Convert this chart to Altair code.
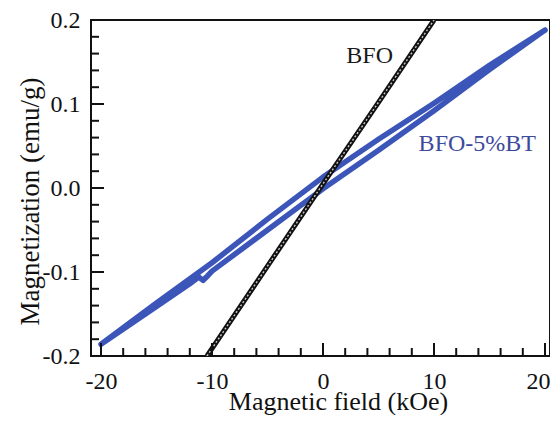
import altair as alt
import pandas as pd

# ---- data ----
bfo_H = [-10.45, -5.0, 0.0, 5.0, 10.0]
bfo_M = [-0.200, -0.093, 0.005, 0.102, 0.200]

bt_upper_H = [20, 15, 10, 5, 0, -5, -10, -15, -20]
bt_upper_M = [0.188, 0.146, 0.101, 0.058, 0.013, -0.037, -0.089, -0.137, -0.186]
bt_lower_H = [-20, -15, -12, -11.2, -10.8, -10.5, -10, -5, 0, 5, 10, 15, 20]
bt_lower_M = [-0.186, -0.141, -0.114, -0.106, -0.110, -0.106, -0.099, -0.050, -0.001, 0.045, 0.092, 0.141, 0.188]

x_major = [-20, -10, 0, 10, 20]
x_minor = [-18, -16, -14, -12, -8, -6, -4, -2, 2, 4, 6, 8, 12, 14, 16, 18]
y_major = [-0.2, -0.1, 0.0, 0.1, 0.2]
y_minor = [-0.18, -0.16, -0.14, -0.12, -0.08, -0.06, -0.04, -0.02,
           0.02, 0.04, 0.06, 0.08, 0.12, 0.14, 0.16, 0.18]

labels_text = ["BFO", "BFO-5%BT"]
labels_H = [4.2, 13.9]
labels_M = [0.149, 0.0435]
labels_color = ["#1a1a1a", "#3c4a9c"]

W, H = 459, 336
FONT = "Liberation Serif"

bfo = pd.DataFrame({"H": bfo_H, "M": bfo_M, "i": range(len(bfo_H))})
loop_H = bt_upper_H + bt_lower_H
loop_M = bt_upper_M + bt_lower_M
bt = pd.DataFrame({"H": loop_H, "M": loop_M, "i": range(len(loop_H))})

xs = alt.Scale(domain=[-20.9, 20.45], nice=False, zero=False)
ys = alt.Scale(domain=[-0.2, 0.2], nice=False, zero=False)

x_lab = "datum.value < 0 ? '-' + format(-datum.value, 'd') : format(datum.value, 'd')"
y_lab = "datum.value < 0 ? '-' + format(-datum.value, '.1f') : format(datum.value, '.1f')"

xaxis = alt.Axis(values=x_major, labelExpr=x_lab, title="Magnetic field (kOe)",
                 labelFont=FONT, labelFontSize=24, labelColor="#111",
                 labelBaseline="alphabetic", labelPadding=32,
                 labelFlush=8, labelFlushOffset=5,
                 titleFont=FONT, titleFontSize=26, titleFontWeight="normal", titleColor="#111",
                 titleX=247, titleY=53, titleBaseline="alphabetic", titleAlign="center",
                 ticks=False, tickSize=0, domain=False, grid=False)
yaxis = alt.Axis(values=y_major, labelExpr=y_lab, title="Magnetization (emu/g)",
                 labelFont=FONT, labelFontSize=24, labelColor="#111", labelPadding=11,
                 titleFont=FONT, titleFontSize=27, titleFontWeight="normal", titleColor="#111",
                 titleAngle=270, titleX=-53, titleY=181, titleBaseline="alphabetic",
                 titleAlign="center",
                 ticks=False, tickSize=0, domain=False, grid=False)

base_x = alt.X("H:Q", scale=xs, axis=xaxis)
base_y = alt.Y("M:Q", scale=ys, axis=yaxis)

loop_line = alt.Chart(bt).mark_line(color="#3b55b8", strokeWidth=5.5, strokeCap="round",
                                    strokeJoin="round", clip=True).encode(
    x=base_x, y=base_y, order="i:Q")

bfo_line = alt.Chart(bfo).mark_line(color="#111111", strokeWidth=5, clip=True).encode(
    x=alt.X("H:Q", scale=xs), y=alt.Y("M:Q", scale=ys), order="i:Q")
bfo_inner = alt.Chart(bfo).mark_line(color="#c8c8c8", strokeWidth=1.4, strokeDash=[2, 2],
                                     clip=True).encode(
    x=alt.X("H:Q", scale=xs), y=alt.Y("M:Q", scale=ys), order="i:Q")

lab_df = pd.DataFrame({"t": labels_text, "H": labels_H, "M": labels_M, "c": labels_color})
labels = alt.Chart(lab_df).mark_text(font=FONT, fontSize=24, baseline="alphabetic",
                                     align="center").encode(
    x=alt.X("H:Q", scale=xs), y=alt.Y("M:Q", scale=ys), text="t:N",
    color=alt.Color("c:N", scale=None))

xmaj = alt.Chart(pd.DataFrame({"H": x_major})).mark_rule(color="#111", strokeWidth=2).encode(
    x=alt.X("H:Q", scale=xs), y=alt.value(H), y2=alt.value(H - 13))
xmin = alt.Chart(pd.DataFrame({"H": x_minor})).mark_rule(color="#111", strokeWidth=2).encode(
    x=alt.X("H:Q", scale=xs), y=alt.value(H), y2=alt.value(H - 8))
ymaj = alt.Chart(pd.DataFrame({"M": y_major})).mark_rule(color="#111", strokeWidth=2).encode(
    y=alt.Y("M:Q", scale=ys), x=alt.value(0), x2=alt.value(13))
ymin = alt.Chart(pd.DataFrame({"M": y_minor})).mark_rule(color="#111", strokeWidth=2).encode(
    y=alt.Y("M:Q", scale=ys), x=alt.value(0), x2=alt.value(8))

chart = alt.layer(loop_line, bfo_line, bfo_inner, xmaj, xmin, ymaj, ymin, labels).properties(
    width=W, height=H,
    autosize=alt.AutoSizeParams(type="none"),
    padding={"left": 83, "top": 12, "right": 0, "bottom": 59},
    background="white",
).configure_view(stroke="#111", strokeWidth=2)

chart.save("out.html", embed_options={"renderer": "svg", "actions": False})
